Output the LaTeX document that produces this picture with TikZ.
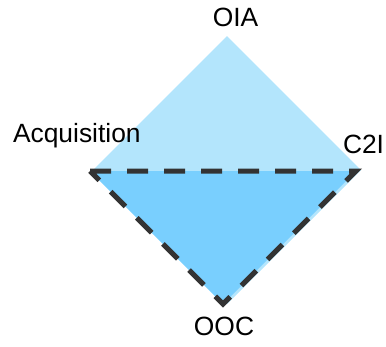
\documentclass[tikz,border=0pt]{standalone}
\usepackage{fontspec}
\setmainfont{Liberation Sans}
\definecolor{lightfill}{HTML}{B3E5FC}
\definecolor{darkfill}{HTML}{79CFFE}
\definecolor{dashcol}{HTML}{333333}
\begin{document}
\begin{tikzpicture}[x=1bp,y=-1bp,
  lbl/.style={inner sep=0pt,outer sep=0pt,font=\fontsize{26.5}{30}\selectfont},
  dashedge/.style={draw=dashcol,line width=5bp,dash pattern=on 21bp off 16bp,line join=miter}]
\useasboundingbox (0,0) rectangle (386,347);
% light diamond
\coordinate (dt) at (227,36);
\coordinate (dl) at (93,170);
\coordinate (dr) at (361,170);
\coordinate (db) at (227,304);
\fill[lightfill] (dt) -- (dr) -- (db) -- (dl) -- cycle;
% dark triangle
\coordinate (tl) at (90,171);
\coordinate (tr) at (356,171);
\coordinate (tb) at (223,304);
\fill[darkfill] (tl) -- (tr) -- (tb) -- cycle;
\draw[dashedge] (tl) -- (tr) -- (tb) -- cycle;
% labels
\node[lbl,anchor=base] (oia) at (235.5,26) {OIA};
\node[lbl,anchor=base west] (acq) at (13,142) {Acquisition};
\node[lbl,anchor=base west] (c2i) at (343,153) {C2I};
\node[lbl,anchor=base] (ooc) at (224,335) {OOC};
\end{tikzpicture}
\end{document}
